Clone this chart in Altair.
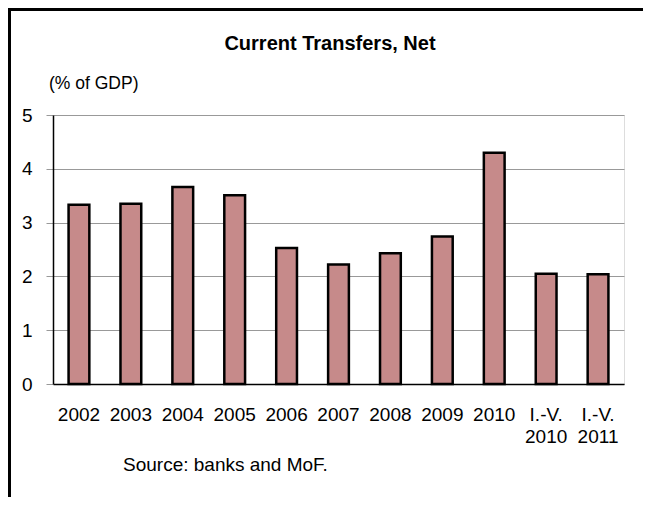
import altair as alt
import pandas as pd

categories = ["2002", "2003", "2004", "2005", "2006", "2007", "2008", "2009", "2010",
              "I.-V.\n2010", "I.-V.\n2011"]
values = [3.33, 3.35, 3.66, 3.51, 2.53, 2.22, 2.43, 2.74, 4.30, 2.05, 2.04]
y_ticks = [0, 1, 2, 3, 4, 5]

title_text = "Current Transfers, Net"
unit_text = "(% of GDP)"
source_text = "Source: banks and MoF."

FONT = "Liberation Sans, Arial, sans-serif"

df = pd.DataFrame({"cat": categories, "val": values})

W, H = 571, 269

base = alt.Chart(df)

bars = base.mark_bar(fill="#c68a8a", stroke="#000000", strokeWidth=2.5).encode(
    x=alt.X("cat:N", sort=categories,
            scale=alt.Scale(paddingInner=0.6, paddingOuter=0.3),
            axis=alt.Axis(title=None, labelAngle=0, ticks=False, labelPadding=21,
                          labelFontSize=19, labelFont=FONT, labelColor="#000000",
                          labelLineHeight=22,
                          labelExpr="split(datum.label, '\\n')",
                          domainColor="#000000", domainWidth=1.5, grid=False)),
    y=alt.Y("val:Q", scale=alt.Scale(domain=[0, 5], nice=False),
            axis=alt.Axis(title=None, values=y_ticks, tickSize=7, tickColor="#999999",
                          labelPadding=14, labelFontSize=19, labelFont=FONT,
                          labelColor="#000000", domainColor="#000000", domainWidth=1.5,
                          gridColor="#999999", gridWidth=1.2)),
)

title = alt.Chart(pd.DataFrame({"t": [title_text]})).mark_text(
    font=FONT, fontSize=20, fontWeight="bold", align="center", baseline="middle", color="#000000"
).encode(text="t:N", x=alt.value(277), y=alt.value(-71))

unit = alt.Chart(pd.DataFrame({"t": [unit_text]})).mark_text(
    font=FONT, fontSize=17.5, align="left", baseline="middle", color="#000000"
).encode(text="t:N", x=alt.value(-4), y=alt.value(-31))

source = alt.Chart(pd.DataFrame({"t": [source_text]})).mark_text(
    font=FONT, fontSize=19, align="left", baseline="middle", color="#000000"
).encode(text="t:N", x=alt.value(70), y=alt.value(350))

frame_left = alt.Chart(pd.DataFrame({"a": [0]})).mark_rule(color="#000000", strokeWidth=3).encode(
    x=alt.value(-43.5), y=alt.value(-107), y2=alt.value(382))
frame_top = alt.Chart(pd.DataFrame({"a": [0]})).mark_rule(color="#000000", strokeWidth=3).encode(
    x=alt.value(-45), x2=alt.value(590), y=alt.value(-105.5))

chart = alt.layer(bars, title, unit, source, frame_left, frame_top).properties(
    width=W, height=H,
    autosize=alt.AutoSizeParams(type="none"),
    padding={"left": 45, "top": 107, "right": 19, "bottom": 113},
).configure_view(stroke="#999999", strokeWidth=1.2).configure(background="#ffffff")

chart.save("out.html", embed_options={"renderer": "svg", "actions": False})
